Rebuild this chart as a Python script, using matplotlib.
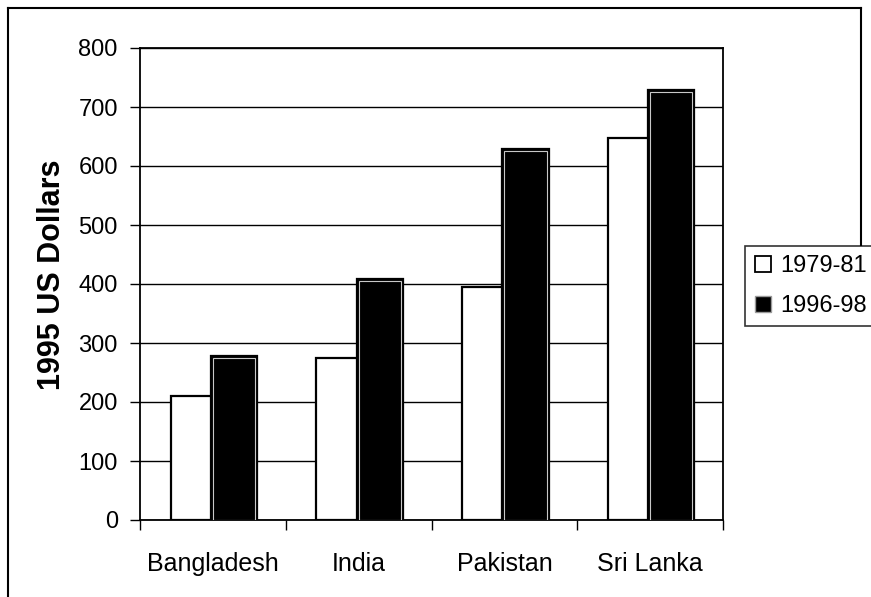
import matplotlib
matplotlib.use("Agg")
import matplotlib.pyplot as plt
import matplotlib.patheffects as pe
from matplotlib.lines import Line2D
import numpy as np

# Income per head in constant 1995 US dollars
countries = ["Bangladesh", "India", "Pakistan", "Sri Lanka"]
period_labels = ["1979-81", "1996-98"]
values_1979_81 = [210, 275, 395, 648]
values_1996_98 = [275, 405, 625, 725]
y_ticks = [0, 100, 200, 300, 400, 500, 600, 700, 800]

plt.rcParams["font.family"] = ["Liberation Sans", "DejaVu Sans"]

fig = plt.figure(figsize=(8.71, 5.97), dpi=100)
ax = fig.add_axes([140 / 871, 1 - 520 / 597, (723 - 140) / 871, (520 - 48) / 597])

x = np.arange(len(countries))
w = 0.29
ax.bar(x - w / 2, values_1979_81, width=w, color="white", edgecolor="black",
       linewidth=1.6, zorder=3)
dark = ax.bar(x + w / 2, values_1996_98, width=w, color="black", edgecolor="#c8c8c8",
              linewidth=0.8, zorder=3)
for b in dark:
    b.set_path_effects([pe.Stroke(linewidth=4.5, foreground="black"), pe.Normal()])

ax.set_xlim(-0.5, len(countries) - 0.5)
ax.set_ylim(0, 800)
ax.set_yticks(y_ticks)
ax.set_yticklabels([str(v) for v in y_ticks], fontsize=17)
ax.yaxis.grid(True, color="black", linewidth=1.0, zorder=0)
ax.set_axisbelow(True)

# category boundary ticks on the x axis, names centred between them
ax.set_xticks(np.arange(-0.5, len(countries), 1.0))
ax.set_xticklabels([])
ax.set_xticks(x, minor=True)
ax.set_xticklabels(countries, minor=True, fontsize=18)
ax.tick_params(axis="x", which="minor", length=0, pad=23)
ax.tick_params(axis="x", which="major", direction="out", length=7, width=1.0)
ax.tick_params(axis="y", direction="out", length=7, width=1.0, pad=9)

for s in ax.spines.values():
    s.set_color("black")
    s.set_linewidth(1.3)

ax.set_ylabel("1995 US Dollars", fontsize=22, fontweight="bold")
ax.yaxis.set_label_coords(-0.125, 0.52)

handles = [
    Line2D([], [], marker="s", linestyle="none", markersize=11,
           markerfacecolor="white", markeredgecolor="black", markeredgewidth=1.3),
    Line2D([], [], marker="s", linestyle="none", markersize=11,
           markerfacecolor="black", markeredgecolor="#9a9a9a", markeredgewidth=1.0),
]
leg = fig.legend(handles, period_labels, loc="center left",
                 bbox_to_anchor=(745 / 871, 1 - 286 / 597), fontsize=17,
                 frameon=True, fancybox=False, edgecolor="black",
                 handlelength=0.7, handletextpad=0.4, borderpad=0.4,
                 labelspacing=0.75, borderaxespad=0)
leg.get_frame().set_linewidth(1.2)

# outer frame around the whole chart
fig.add_artist(Line2D([8 / 871, 8 / 871], [0, 1 - 8 / 597], color="black",
                      linewidth=1.5, transform=fig.transFigure))
fig.add_artist(Line2D([8 / 871, 861 / 871], [1 - 8 / 597, 1 - 8 / 597], color="black",
                      linewidth=1.5, transform=fig.transFigure))
fig.add_artist(Line2D([861 / 871, 861 / 871], [1 - 8 / 597, 1 - 245 / 597], color="black",
                      linewidth=1.5, transform=fig.transFigure))

fig.savefig("out.png", dpi=100, facecolor="white")
